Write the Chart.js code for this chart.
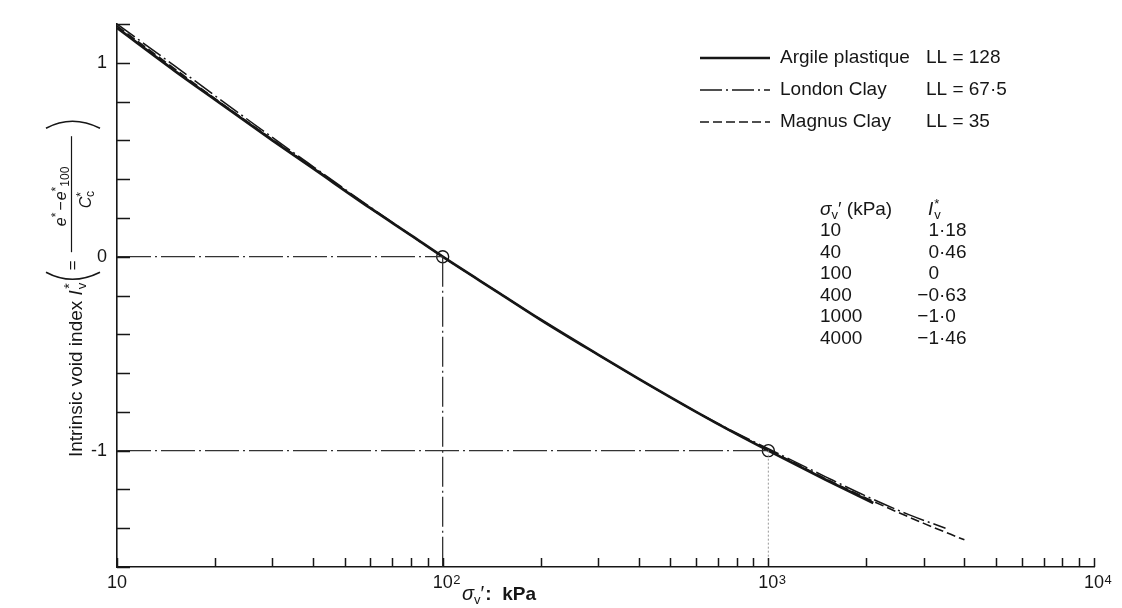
<!DOCTYPE html>
<html>
<head>
<meta charset="utf-8">
<title>Intrinsic compression line</title>
<script src="https://cdn.jsdelivr.net/npm/chart.js@4/dist/chart.umd.min.js"></script>
<style>
  html, body { margin: 0; padding: 0; background: #fff; }
  #wrap { width: 1122px; height: 608px; }
</style>
</head>
<body>
<div id="wrap"><canvas id="icl" width="1122" height="608"></canvas></div>
<script>
const FONT = '"Liberation Sans", Arial, Helvetica, sans-serif';
const INK = '#161616';

// vertical effective stress (kPa) and intrinsic void index, one pair of arrays per clay
const argileStress = [10, 15, 20, 30, 40, 60, 80, 100, 150, 200, 300, 400, 600, 800, 1000, 1500, 2100];
const argileIv     = [1.18, 0.96, 0.81, 0.60, 0.455, 0.25, 0.11, 0, -0.19, -0.325, -0.505, -0.63, -0.80, -0.915, -1.0, -1.15, -1.27];

const londonStress = [10, 15, 20, 30, 40, 60, 80, 100, 150, 200, 300, 400, 600, 800, 1000, 1500, 2000, 2700, 3500];
const londonIv     = [1.20, 0.985, 0.83, 0.615, 0.465, 0.255, 0.11, 0, -0.19, -0.325, -0.505, -0.63, -0.80, -0.91, -0.99, -1.135, -1.235, -1.33, -1.40];

const magnusStress = [10, 15, 20, 30, 40, 60, 80, 100, 150, 200, 300, 400, 600, 800, 1000, 1500, 2000, 3000, 4000];
const magnusIv     = [1.19, 0.97, 0.815, 0.605, 0.46, 0.25, 0.11, 0, -0.19, -0.325, -0.505, -0.63, -0.80, -0.915, -0.995, -1.145, -1.245, -1.375, -1.46];

const seriesNames  = ['Argile plastique', 'London Clay', 'Magnus Clay'];
const liquidLimits = ['128', '67·5', '35'];

// the two reference points marked with circles
const refStress = [100, 1000];
const refIv     = [0, -1];

// tabulated ICL values
const tableStress = ['10', '40', '100', '400', '1000', '4000'];
const tableIv     = ['1·18', '0·46', '0', '−0·63', '−1·0', '−1·46'];

// axis ticks: labelled decades get a base and an exponent
const xTicks = [10, 20, 30, 40, 50, 60, 70, 80, 90,
                100, 200, 300, 400, 500, 600, 700, 800, 900,
                1000, 2000, 3000, 4000, 5000, 6000, 7000, 8000, 9000, 10000];
const xTickLabels = { 10: '10', 100: '10', 1000: '10', 10000: '10' };
const xTickExps   = { 100: '2', 1000: '3', 10000: '4' };
const yMin = -1.6, yMax = 1.2, yStep = 0.2;

const styles = [
  { width: 2.7, dash: [] },
  { width: 1.5, dash: [22, 4, 2, 4] },
  { width: 1.6, dash: [9, 4] }
];

function pts(xs, ys) { return xs.map((x, i) => ({ x: x, y: ys[i] })); }

function curve(label, xs, ys, st) {
  return {
    label: label, data: pts(xs, ys),
    borderColor: INK, borderWidth: st.width, borderDash: st.dash,
    pointRadius: 0, fill: false, cubicInterpolationMode: 'monotone'
  };
}

function guide(data, color, width, dash) {
  return { label: '', data: data, borderColor: color, borderWidth: width, borderDash: dash,
           pointRadius: 0, fill: false, tension: 0 };
}

const datasets = [
  guide([{ x: xTicks[0], y: refIv[0] }, { x: refStress[0], y: refIv[0] }], '#333', 1.2, [34, 4, 2, 4]),
  guide([{ x: refStress[0], y: refIv[0] }, { x: refStress[0], y: yMin }], '#333', 1.3, [30, 4, 2, 4]),
  guide([{ x: xTicks[0], y: refIv[1] }, { x: refStress[1], y: refIv[1] }], '#333', 1.2, [34, 4, 2, 4]),
  guide([{ x: refStress[1], y: refIv[1] }, { x: refStress[1], y: yMin }], '#999', 1, [2, 2]),
  curve(seriesNames[0], argileStress, argileIv, styles[0]),
  curve(seriesNames[1], londonStress, londonIv, styles[1]),
  curve(seriesNames[2], magnusStress, magnusIv, styles[2]),
  {
    label: '', data: pts(refStress, refIv), showLine: false,
    pointRadius: 6, pointBorderWidth: 1.4, pointBorderColor: INK,
    pointBackgroundColor: 'rgba(0,0,0,0)'
  }
];

// text with a sub/superscript run, drawn left to right from x
function runs(ctx, parts, x, y) {
  for (const p of parts) {
    ctx.font = p.font;
    ctx.fillText(p.t, x, y + (p.dy || 0));
    x += ctx.measureText(p.t).width + (p.gap || 0);
  }
  return x;
}

const decor = {
  id: 'decor',
  beforeDraw(chart) {
    const ctx = chart.ctx;
    ctx.save();
    ctx.fillStyle = '#fff';
    ctx.fillRect(0, 0, chart.width, chart.height);
    ctx.restore();
  },
  afterDraw(chart) {
    const ctx = chart.ctx;
    const xs = chart.scales.x, ys = chart.scales.y;
    const a = chart.chartArea;
    ctx.save();
    ctx.strokeStyle = INK;
    ctx.fillStyle = INK;

    // inward tick marks
    ctx.lineWidth = 1.5;
    ctx.beginPath();
    for (const t of xs.ticks) {
      const px = Math.round(xs.getPixelForValue(t.value)) + 0.5;
      ctx.moveTo(px, a.bottom);
      ctx.lineTo(px, a.bottom - 9);
    }
    for (const t of ys.ticks) {
      const py = Math.round(ys.getPixelForValue(t.value)) + 0.5;
      ctx.moveTo(a.left, py);
      ctx.lineTo(a.left + 13, py);
    }
    ctx.stroke();

    // decade exponents next to the "10" tick labels
    ctx.font = '18px ' + FONT;
    const baseW = ctx.measureText('10').width;
    ctx.font = '13px ' + FONT;
    ctx.textBaseline = 'alphabetic';
    for (const v of Object.keys(xTickExps)) {
      const px = xs.getPixelForValue(+v);
      ctx.fillText(xTickExps[v], px + baseW / 2 + 0.5, a.bottom + 17);
    }

    // legend
    ctx.textBaseline = 'middle';
    const legY = [58, 90, 122];
    seriesNames.forEach((name, i) => {
      ctx.lineWidth = styles[i].width;
      ctx.setLineDash(styles[i].dash);
      ctx.beginPath();
      ctx.moveTo(700, legY[i]);
      ctx.lineTo(770, legY[i]);
      ctx.stroke();
      ctx.setLineDash([]);
      ctx.font = '19px ' + FONT;
      ctx.fillText(name, 780, legY[i]);
      ctx.fillText('LL = ' + liquidLimits[i], 926, legY[i]);
    });

    // table of values
    ctx.textBaseline = 'alphabetic';
    runs(ctx, [
      { t: 'σ', font: 'italic 19px ' + FONT },
      { t: 'v', font: '13px ' + FONT, dy: 4 },
      { t: '′ (kPa)', font: '19px ' + FONT }
    ], 820, 215);
    runs(ctx, [
      { t: 'I', font: 'italic 19px ' + FONT, gap: 1 },
      { t: '*', font: '13px ' + FONT, dy: -7, gap: -5 },
      { t: 'v', font: '13px ' + FONT, dy: 4 }
    ], 928, 215);
    ctx.font = '19px ' + FONT;
    const dotX = 940;
    tableStress.forEach((s, i) => {
      const y = 236 + i * 21.6;
      ctx.textAlign = 'left';
      ctx.fillText(s, 820, y);
      const parts = tableIv[i].split('·');
      ctx.textAlign = 'right';
      ctx.fillText(parts[0], dotX - 1, y);
      if (parts.length > 1) {
        ctx.textAlign = 'left';
        ctx.fillText('·' + parts[1], dotX - 1, y);
      }
    });
    ctx.textAlign = 'left';

    // x axis title
    runs(ctx, [
      { t: 'σ', font: 'italic 20px ' + FONT },
      { t: 'v', font: '13px ' + FONT, dy: 4 },
      { t: '′', font: '20px ' + FONT, gap: 1 },
      { t: ':  ', font: 'bold 19px ' + FONT },
      { t: 'kPa', font: 'bold 19px ' + FONT }
    ], 462, 600);

    // y axis title, rotated
    ctx.translate(82, 457);
    ctx.rotate(-Math.PI / 2);
    let u = runs(ctx, [
      { t: 'Intrinsic void index ', font: '19px ' + FONT },
      { t: 'I', font: 'italic 19px ' + FONT, gap: 1 },
      { t: 'v', font: '13px ' + FONT, dy: 4, gap: -6 },
      { t: '*', font: '14px ' + FONT, dy: -8 }
    ], 0, 0);
    // big brackets around "= fraction"
    const pL = u + 3, pR = pL + 160;
    ctx.lineWidth = 1.6;
    ctx.beginPath();
    ctx.moveTo(pL + 8, -36);
    ctx.quadraticCurveTo(pL - 6, -10, pL + 8, 18);
    ctx.moveTo(pR - 8, -36);
    ctx.quadraticCurveTo(pR + 6, -10, pR - 8, 18);
    ctx.stroke();
    ctx.font = '17px ' + FONT;
    ctx.fillText('=', pL + 10, -4);
    const fx = pL + 28;
    ctx.lineWidth = 1.2;
    ctx.beginPath();
    ctx.moveTo(fx, -10.5);
    ctx.lineTo(fx + 116, -10.5);
    ctx.stroke();
    runs(ctx, [
      { t: 'e', font: 'italic 16px ' + FONT },
      { t: '*', font: '12px ' + FONT, dy: -6, gap: 2 },
      { t: '−', font: '16px ' + FONT, gap: 1 },
      { t: 'e', font: 'italic 16px ' + FONT },
      { t: '*', font: '12px ' + FONT, dy: -6 },
      { t: '100', font: '12px ' + FONT, dy: 3 }
    ], fx + 26, -16);
    runs(ctx, [
      { t: 'C', font: 'italic 16px ' + FONT },
      { t: '*', font: '12px ' + FONT, dy: -6, gap: -5 },
      { t: 'c', font: '12px ' + FONT, dy: 3 }
    ], fx + 44, 9);
    ctx.restore();
  }
};

new Chart(document.getElementById('icl').getContext('2d'), {
  type: 'line',
  data: { datasets: datasets },
  plugins: [decor],
  options: {
    responsive: false,
    animation: false,
    layout: { padding: { top: 24, right: 28, left: 0, bottom: 0 } },
    plugins: { legend: { display: false }, tooltip: { enabled: false } },
    scales: {
      x: {
        type: 'logarithmic', min: 10, max: 10000,
        afterBuildTicks: s => { s.ticks = xTicks.map(v => ({ value: v, major: !!xTickLabels[v] })); },
        afterFit: s => { s.height = 41; },
        grid: { display: false, drawTicks: false },
        border: { display: true, color: INK, width: 1.6 },
        ticks: {
          autoSkip: false, maxRotation: 0, padding: 5,
          color: INK, font: { family: FONT, size: 18 },
          callback: v => xTickLabels[v] || ''
        }
      },
      y: {
        min: yMin, max: yMax,
        afterFit: s => { s.width = 117; },
        grid: { display: false, drawTicks: false },
        border: { display: true, color: INK, width: 1.6 },
        ticks: {
          stepSize: yStep, autoSkip: false, padding: 10,
          color: INK, font: { family: FONT, size: 18 },
          callback: v => Math.abs(v - Math.round(v)) < 1e-6 ? String(Math.round(v)) : ''
        }
      }
    }
  }
});
</script>
</body>
</html>
